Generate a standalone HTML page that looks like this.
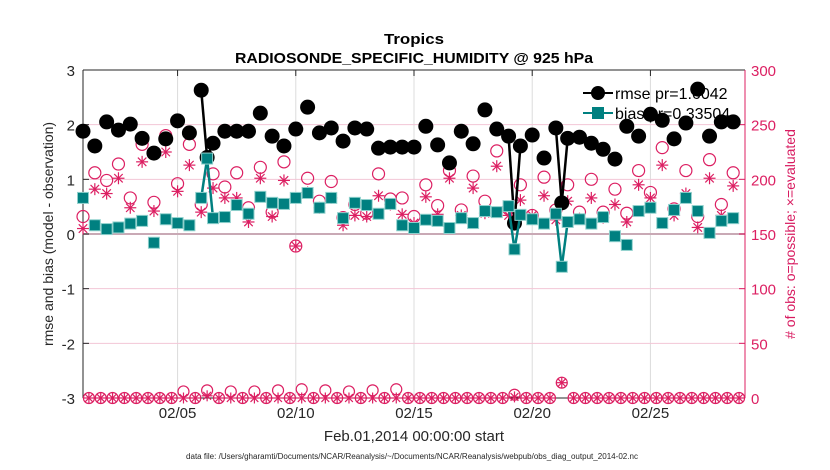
<!DOCTYPE html>
<html><head><meta charset="utf-8"><style>
body{margin:0;background:#fff}
svg{display:block;font-family:"Liberation Sans",sans-serif}
</style></head><body>
<svg id="chart" width="830" height="470" viewBox="0 0 830 470" xmlns="http://www.w3.org/2000/svg">
<text x="414" y="44" text-anchor="middle" font-weight="bold" font-size="15" textLength="60" lengthAdjust="spacingAndGlyphs">Tropics</text>
<text x="414" y="63" text-anchor="middle" font-weight="bold" font-size="15" textLength="358" lengthAdjust="spacingAndGlyphs">RADIOSONDE_SPECIFIC_HUMIDITY @ 925 hPa</text>
<g id="grid"></g><g id="axes"></g><g id="legend"></g><g id="marks"></g>
<text x="414" y="441" text-anchor="middle" font-size="15" fill="#262626">Feb.01,2014 00:00:00 start</text>
<text x="412" y="459" text-anchor="middle" font-size="8" fill="#262626" textLength="452" lengthAdjust="spacingAndGlyphs">data file: /Users/gharamti/Documents/NCAR/Reanalysis/~/Documents/NCAR/Reanalysis/webpub/obs_diag_output_2014-02.nc</text>
<text transform="translate(53,234) rotate(-90)" text-anchor="middle" font-size="14" fill="#262626">rmse and bias (model - observation)</text>
<text transform="translate(795,234) rotate(-90)" text-anchor="middle" font-size="14" fill="#d81b60">#  of obs: o=possible; ×=evaluated</text>
</svg>
<script>
// 6-hourly index j (0 = Feb 01 00Z)
const rmseJ=[0,2,4,6,8,10,12,14,16,18,20,21,22,24,26,28,30,32,34,36,38,40,42,44,46,48,50,52,54,56,58,60,62,64,66,68,70,72,73,74,76,78,80,81,82,84,86,88,90,92,94,96,98,100,102,104,106,108,110];
const rmseV=[1.88,1.61,2.05,1.9,2.01,1.75,1.48,1.74,2.07,1.85,2.63,1.4,1.66,1.88,1.88,1.88,2.21,1.79,1.61,1.92,2.32,1.85,1.94,1.7,1.94,1.92,1.57,1.59,1.59,1.59,1.97,1.63,1.3,1.88,1.65,2.27,1.92,1.79,0.2,1.61,1.81,1.39,1.94,0.57,1.75,1.77,1.66,1.55,1.37,1.97,1.79,2.19,2.08,1.74,2.03,2.65,1.79,2.05,2.05];
const biasV=[0.66,0.16,0.09,0.12,0.19,0.24,-0.16,0.27,0.2,0.16,0.66,1.38,0.29,0.31,0.53,0.37,0.68,0.57,0.55,0.66,0.75,0.48,0.66,0.29,0.57,0.53,0.37,0.55,0.16,0.11,0.26,0.24,0.11,0.29,0.2,0.42,0.4,0.51,-0.28,0.35,0.27,0.19,0.37,-0.6,0.22,0.27,0.19,0.31,-0.04,-0.2,0.42,0.48,0.2,0.44,0.66,0.42,0.02,0.24,0.29];
const possJ=[0,2,4,6,8,10,12,14,16,18,20,22,24,26,28,30,32,34,36,38,40,42,44,46,48,50,52,54,56,58,60,62,64,66,68,70,72,74,76,78,80,82,84,86,88,90,92,94,96,98,100,102,104,106,108,110];
const possV=[166,206,199,214,183,232,179,240,196,232,177,205,193,206,174,211,170,216,139,201,180,198,165,177,169,205,182,183,166,195,176,208,172,203,180,226,173,195,167,202,172,195,170,200,170,191,169,208,188,229,173,208,166,218,177,206];
const evalV=[155,191,187,201,174,216,171,225,189,213,170,192,183,183,161,201,166,199,139,188,174,183,158,167,166,185,177,168,160,184,168,201,167,192,169,212,167,181,167,185,163,180,164,183,165,177,161,195,183,213,167,187,156,201,167,194];
// odd-hour (06Z/18Z) counts along the bottom
const lowJ=[1,3,5,7,9,11,13,15,17,19,21,23,25,27,29,31,33,35,37,39,41,43,45,47,49,51,53,55,57,59,61,63,65,67,69,71,73,75,77,79,81,83,85,87,89,91,93,95,97,99,101,103,105,107,109,111];
const lowPoss=[0,0,0,0,0,0,0,0,6,0,7,0,6,0,6,0,7,0,8,0,7,0,6,0,7,0,8,0,0,0,0,0,0,0,0,0,3,0,0,0,14,0,0,0,0,0,0,0,0,0,0,0,0,0,0,0];
const lowEval=[0,0,0,0,0,0,0,0,0,0,2,0,0,0,0,0,0,0,0,0,0,0,0,0,0,0,0,0,0,0,0,0,0,0,0,0,1,0,0,0,14,0,0,0,0,0,0,0,0,0,0,0,0,0,0,0];
const leftTicks=[-3,-2,-1,0,1,2,3];
const rightTicks=[0,50,100,150,200,250,300];
const dateTicks=[16,36,56,76,96];
const dateLabels=['02/05','02/10','02/15','02/20','02/25'];

const NS='http://www.w3.org/2000/svg';
const X0=83,X1=745,Y0=70,Y1=398;
const xs=j=>X0+(X1-X0)*j/112;
const yl=v=>Y1-(v+3)/6*(Y1-Y0);
const yr=v=>Y1-v/300*(Y1-Y0);
const MAG='#dc1f62',TEAL='#008080';
function mk(tag,attrs,parent){const e=document.createElementNS(NS,tag);for(const k in attrs)e.setAttribute(k,attrs[k]);parent.appendChild(e);return e;}
const grid=document.getElementById('grid'),axes=document.getElementById('axes'),marks=document.getElementById('marks'),leg=document.getElementById('legend');

dateTicks.forEach((j,i)=>{
  const l=mk('line',{x1:xs(j),x2:xs(j),y1:Y0,y2:Y1,stroke:'#dcdcdc','stroke-width':1},grid);
  
  
  const t=mk('line',{x1:xs(j),x2:xs(j),y1:Y0,y2:Y0+6,stroke:'#262626'},axes);
  
  
  const tx=mk('text',{x:xs(j),y:418,'text-anchor':'middle','font-size':15,fill:'#262626'},axes);
  tx.textContent=dateLabels[i];
  
  
});
rightTicks.forEach(v=>{
  if(v>0&&v<300){const g=mk('line',{x1:X0,x2:X1,y1:yr(v),y2:yr(v),stroke:v==150?'#c9a9b5':'#f3c6d6','stroke-width':v==150?2:1},grid);
  
  }
  const t=mk('line',{x1:X1-6,x2:X1,y1:yr(v),y2:yr(v),stroke:MAG},axes);
  
  
  const tx=mk('text',{x:X1+6,y:yr(v)+6,'font-size':15,fill:MAG},axes);
  tx.textContent=v;
  
  
});
leftTicks.forEach(v=>{
  const t=mk('line',{x1:X0,x2:X0+6,y1:yl(v),y2:yl(v),stroke:'#262626'},axes);
  
  
  const tx=mk('text',{x:X0-8,y:yl(v)+6,'text-anchor':'end','font-size':15,fill:'#262626'},axes);
  tx.textContent=v;
  
  
});
let a=mk('line',{x1:X0,x2:X1,y1:Y0,y2:Y0,stroke:'#262626'},axes);


a=mk('line',{x1:X0,x2:X1,y1:Y1,y2:Y1,stroke:'#262626'},axes);


a=mk('line',{x1:X0,x2:X0,y1:Y0,y2:Y1,stroke:'#262626'},axes);


a=mk('line',{x1:X1,x2:X1,y1:Y0,y2:Y1,stroke:MAG},axes);



// legend
let li=mk('line',{x1:583,x2:613,y1:93,y2:93,stroke:'#000','stroke-width':2},leg);


li=mk('circle',{cx:598,cy:93,r:7,fill:'#000'},leg);


li=mk('text',{x:615,y:99,'font-size':16,fill:'#000'},leg);li.textContent='rmse pr=1.6042';


li=mk('line',{x1:583,x2:613,y1:113,y2:113,stroke:TEAL,'stroke-width':2},leg);


li=mk('rect',{x:592,y:107,width:12,height:12,fill:TEAL},leg);


li=mk('text',{x:615,y:119,'font-size':16,fill:'#000'},leg);li.textContent='bias pr=0.33504';



function segs(J,V,yf,color,name){
  for(let i=1;i<J.length;i++){ if(J[i]-J[i-1]==1){
    const s=mk('line',{x1:xs(J[i-1]),y1:yf(V[i-1]),x2:xs(J[i]),y2:yf(V[i]),stroke:color,'stroke-width':2.5},marks);
    
    
  }}
}
function star(x,y,r,parent){
  const g=mk('g',{stroke:MAG,'stroke-width':1.2},parent);
  for(let k=0;k<4;k++){const an=k*Math.PI/4;mk('line',{x1:x-r*Math.cos(an),y1:y-r*Math.sin(an),x2:x+r*Math.cos(an),y2:y+r*Math.sin(an)},g);}
  return g;
}
lowJ.forEach((j,i)=>{
  const c=mk('circle',{cx:xs(j),cy:yr(lowPoss[i]),r:5.5,fill:'none',stroke:MAG,'stroke-width':1.2},marks);
  
  
  const s=star(xs(j),yr(lowEval[i]),5.5,marks);
  
  
});
possJ.forEach((j,i)=>{
  const c=mk('circle',{cx:xs(j),cy:yr(possV[i]),r:6,fill:'none',stroke:MAG,'stroke-width':1.2},marks);
  
  
  const s=star(xs(j),yr(evalV[i]),6,marks);
  
  
});
segs(rmseJ,rmseV,yl,'#000','rmse-line-segment');
rmseJ.forEach((j,i)=>{
  const c=mk('circle',{cx:xs(j),cy:yl(rmseV[i]),r:7.5,fill:'#000'},marks);
  
  
});
segs(rmseJ,biasV,yl,TEAL,'bias-line-segment');
rmseJ.forEach((j,i)=>{
  const r=mk('rect',{x:xs(j)-5.5,y:yl(biasV[i])-5.5,width:11,height:11,fill:TEAL,stroke:'#8fd0cc','stroke-width':1},marks);
  
  
});
</script>
</body></html>
